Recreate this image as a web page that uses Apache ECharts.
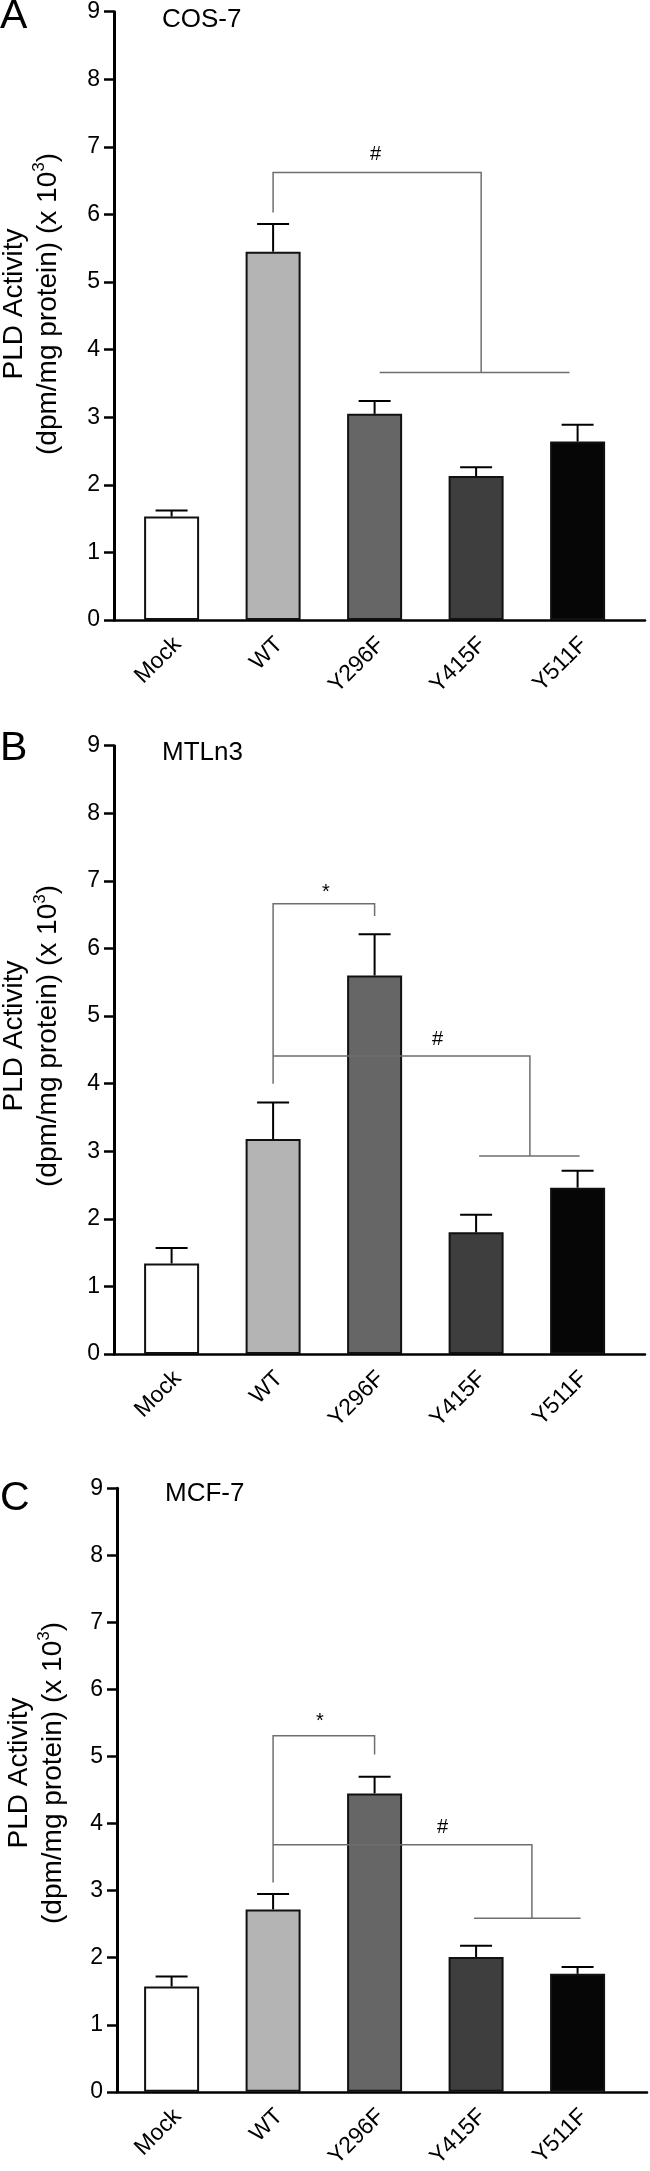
<!DOCTYPE html>
<html>
<head>
<meta charset="utf-8">
<script src="https://cdn.jsdelivr.net/npm/echarts@6/dist/echarts.min.js"></script>
<style>
html,body{margin:0;padding:0;background:#fff;}
#chart{width:650px;height:2171px;}
</style>
</head>
<body>
<div id="chart"></div>
<script>
// ---- data ----
const categories = ['Mock', 'WT', 'Y296F', 'Y415F', 'Y511F'];
const yTicks = [0, 1, 2, 3, 4, 5, 6, 7, 8, 9];
const barColors = ['#ffffff', '#b4b4b4', '#666666', '#3e3e3e', '#060606'];

const cos7Means = [1.53, 5.45, 3.05, 2.13, 2.64];
const cos7Errors = [0.09, 0.41, 0.19, 0.13, 0.25];
const mtln3Means = [1.34, 3.18, 5.60, 1.80, 2.46];
const mtln3Errors = [0.23, 0.54, 0.61, 0.26, 0.25];
const mcf7Means = [1.57, 2.72, 4.45, 2.01, 1.76];
const mcf7Errors = [0.15, 0.23, 0.25, 0.17, 0.10];

// significance brackets (category index, value)
const cos7Brackets = [
  [[1, 6.03], [1, 6.62], [3.05, 6.62], [3.05, 3.66]],
  [[2.05, 3.66], [3.92, 3.66]]
];
const cos7Marks = [[2.01, 6.89, '#']];
const mtln3Brackets = [
  [[1, 4.0], [1, 6.66], [2, 6.66], [2, 6.48]],
  [[1, 4.41], [3.53, 4.41], [3.53, 2.93]],
  [[3.03, 2.93], [4.02, 2.93]]
];
const mtln3Marks = [[1.52, 6.83, '*'], [2.62, 4.66, '#']];
const mcf7Brackets = [
  [[1, 3.12], [1, 5.31], [2, 5.31], [2, 5.03]],
  [[1, 3.685], [3.55, 3.685], [3.55, 2.59]],
  [[2.98, 2.59], [4.03, 2.59]]
];
const mcf7Marks = [[1.46, 5.52, '*'], [2.67, 3.94, '#']];

const panelLetters = ['A', 'B', 'C'];
const panelNames = ['COS-7', 'MTLn3', 'MCF-7'];
const yTitle = 'PLD Activity\n(dpm/mg protein) (x 10{sup|3})';

// ---- layout ----
const FONT = '"Liberation Sans", Arial, Helvetica, sans-serif';
const LABEL_SHIFT = 0.06; // small rightward nudge of rotated category labels
const panels = [
  {means: cos7Means, errors: cos7Errors, brackets: cos7Brackets, marks: cos7Marks,
   grid: {left: 114, top: 11.7, width: 531, height: 608.3}, xmin: -0.5675, xmax: 4.664,
   letterY: 16.5, nameX: 162, nameY: 19.5, titleX: 31, titleY: 304},
  {means: mtln3Means, errors: mtln3Errors, brackets: mtln3Brackets, marks: mtln3Marks,
   grid: {left: 114, top: 745.7, width: 531, height: 608.3}, xmin: -0.5675, xmax: 4.664,
   letterY: 749, nameX: 162, nameY: 753, titleX: 31.5, titleY: 1036},
  {means: mcf7Means, errors: mcf7Errors, brackets: mcf7Brackets, marks: mcf7Marks,
   grid: {left: 117, top: 1488.3, width: 530, height: 606.7}, xmin: -0.538, xmax: 4.684,
   letterY: 1499, nameX: 165, nameY: 1494, titleX: 36, titleY: 1773}
];

const grids = [], xAxes = [], yAxes = [], series = [], graphics = [];

panels.forEach((p, k) => {
  grids.push(Object.assign({containLabel: false}, p.grid));
  xAxes.push({
    type: 'value', gridIndex: k, min: p.xmin, max: p.xmax,
    splitLine: {show: false},
    axisLine: {show: true, onZero: false, lineStyle: {color: '#000', width: 2.5}},
    axisTick: {show: false},
    axisLabel: {
      customValues: categories.map((c, i) => i + LABEL_SHIFT),
      formatter: v => categories[Math.round(v)] || '',
      rotate: 45, fontSize: 23, color: '#000', fontFamily: FONT, margin: 21
    }
  });
  yAxes.push({
    type: 'value', gridIndex: k, min: yTicks[0], max: yTicks[yTicks.length - 1], interval: 1,
    splitLine: {show: false},
    axisLine: {show: true, onZero: false, lineStyle: {color: '#000', width: 3}},
    axisTick: {show: true, length: 10, lineStyle: {color: '#000', width: 2.5}},
    axisLabel: {fontSize: 23, color: '#000', fontFamily: FONT, margin: 14}
  });
  series.push({
    type: 'bar', xAxisIndex: k, yAxisIndex: k, barWidth: 55, z: 2,
    data: p.means.map((m, i) => ({
      value: [i, m],
      itemStyle: {color: barColors[i], borderColor: '#111', borderWidth: 2}
    }))
  });
  series.push({
    type: 'custom', xAxisIndex: k, yAxisIndex: k, z: 3,
    data: p.means.map((m, i) => [i, m, p.errors[i]]),
    renderItem: (params, api) => {
      const x = api.value(0), y = api.value(1), e = api.value(2);
      const b = api.coord([x, y]);
      const t = api.coord([x, y + e]);
      return {
        type: 'group', children: [
          {type: 'line', shape: {x1: t[0], y1: b[1], x2: t[0], y2: t[1]}, style: {stroke: '#000', lineWidth: 2}},
          {type: 'line', shape: {x1: t[0] - 16, y1: t[1], x2: t[0] + 16, y2: t[1]}, style: {stroke: '#000', lineWidth: 2}}
        ]
      };
    }
  });
  series.push({
    type: 'lines', coordinateSystem: 'cartesian2d', xAxisIndex: k, yAxisIndex: k,
    polyline: true, z: 4, silent: true,
    lineStyle: {color: '#6e6e6e', width: 1.5, opacity: 1},
    data: p.brackets.map(c => ({coords: c}))
  });
  series.push({
    type: 'custom', xAxisIndex: k, yAxisIndex: k, z: 5,
    data: p.marks,
    renderItem: (params, api) => {
      const pt = api.coord([api.value(0), api.value(1)]);
      return {
        type: 'text', x: pt[0], y: pt[1],
        style: {text: p.marks[params.dataIndex][2], fontSize: 20, fontFamily: FONT, fill: '#000',
                align: 'center', verticalAlign: 'middle'}
      };
    }
  });
  graphics.push({
    type: 'text', x: 0, y: p.letterY,
    style: {text: panelLetters[k], fontSize: 41, fontFamily: FONT, fill: '#000', align: 'left', verticalAlign: 'middle'}
  });
  graphics.push({
    type: 'text', x: p.nameX, y: p.nameY,
    style: {text: panelNames[k], fontSize: 26, fontFamily: FONT, fill: '#000', align: 'left', verticalAlign: 'middle'}
  });
  graphics.push({
    type: 'text', x: p.titleX, y: p.titleY, rotation: Math.PI / 2,
    style: {
      text: yTitle, fontSize: 28, fontFamily: FONT, fill: '#000', align: 'center', verticalAlign: 'middle',
      lineHeight: 34,
      rich: {sup: {fontSize: 17, fontFamily: FONT, fill: '#000', verticalAlign: 'top', lineHeight: 34}}
    }
  });
});

const chart = echarts.init(document.getElementById('chart'), null, {renderer: 'canvas'});
chart.setOption({
  animation: false,
  backgroundColor: '#fff',
  grid: grids, xAxis: xAxes, yAxis: yAxes, series: series,
  graphic: graphics
});
</script>
</body>
</html>
